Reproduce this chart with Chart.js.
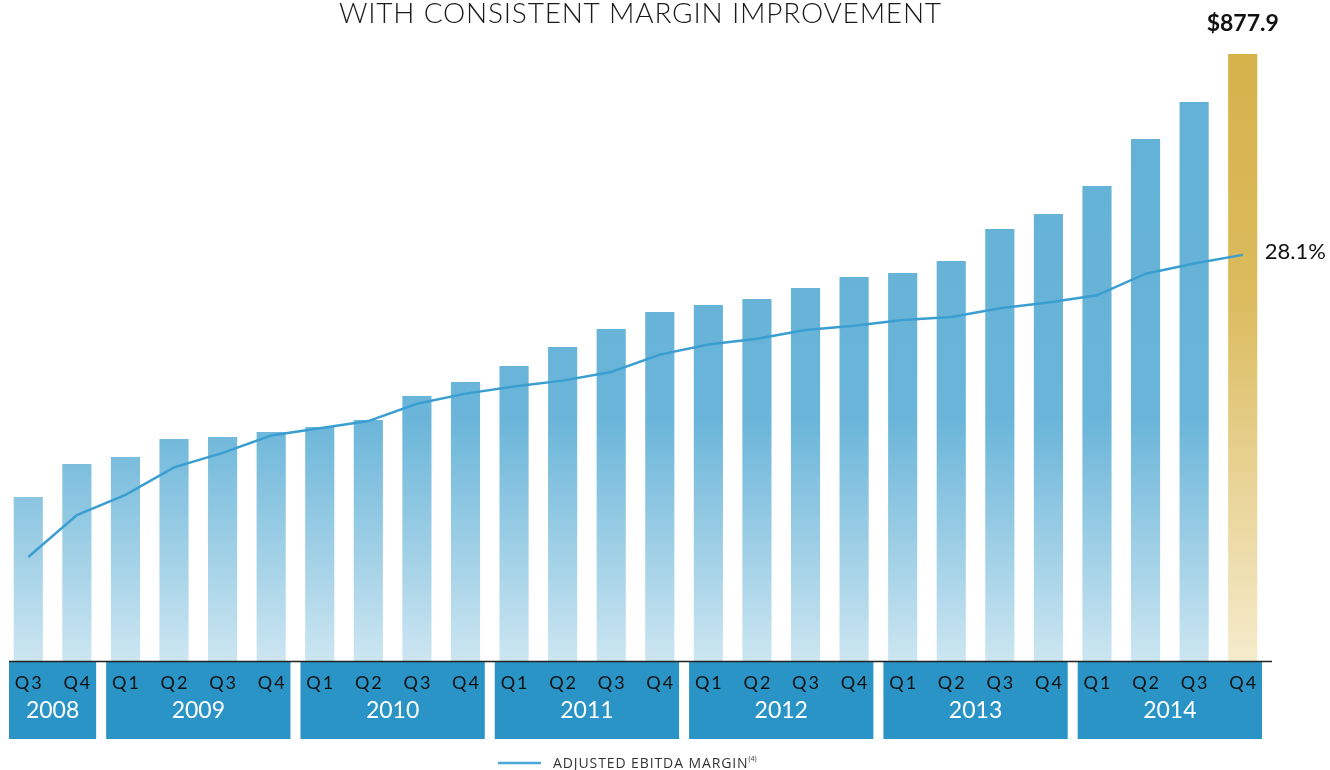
<!DOCTYPE html>
<html><head><meta charset="utf-8">
<script src="https://cdn.jsdelivr.net/npm/chart.js@4.4.0/dist/chart.umd.min.js"></script>
<style>html,body{margin:0;padding:0;background:#fff}#wrap{width:1330px;height:770px;position:relative}</style>
</head><body><div id="wrap"><canvas id="c" width="1330" height="770"></canvas></div>
<script>
const quarters = ["Q3","Q4","Q1","Q2","Q3","Q4","Q1","Q2","Q3","Q4","Q1","Q2","Q3","Q4","Q1","Q2","Q3","Q4","Q1","Q2","Q3","Q4","Q1","Q2","Q3","Q4"];
const years = ["2008","2008","2009","2009","2009","2009","2010","2010","2010","2010","2011","2011","2011","2011","2012","2012","2012","2012","2013","2013","2013","2013","2014","2014","2014","2014"];
const revenue = [237.2,284.9,295.0,321.1,324.0,331.2,338.4,348.6,383.3,403.5,426.7,454.1,480.2,504.8,514.9,523.6,539.5,555.4,561.2,578.5,624.8,646.5,687.0,755.0,808.5,877.9];
const margin = [7.2,10.1,11.5,13.4,14.4,15.6,16.1,16.6,17.8,18.5,19.0,19.4,20.0,21.2,21.9,22.3,22.9,23.2,23.6,23.8,24.4,24.8,25.3,26.8,27.5,28.1];
const titleText = "WITH CONSISTENT MARGIN IMPROVEMENT";
const lastBarLabel = "$877.9";
const lastLineLabel = "28.1%";
const legendText = "ADJUSTED EBITDA MARGIN";

const labels = quarters.map((q,i)=>q+" "+years[i]);

function barGrad(ctx){
  const ch = ctx.chart; const a = ch.chartArea;
  if(!a) return '#63b2d6';
  const last = ctx.dataIndex === revenue.length-1;
  const g = ch.ctx.createLinearGradient(0,a.top,0,a.bottom);
  if(last){
    g.addColorStop(0,'#d6b24b'); g.addColorStop(0.4,'#dbbb5e'); g.addColorStop(1,'#f5ebcc');
  } else {
    g.addColorStop(0,'#62b1d6'); g.addColorStop(0.6,'#6ab5d9'); g.addColorStop(1,'#cce6f1');
  }
  return g;
}

function spaced(c,txt,x,y,sp){
  c.letterSpacing = sp+'px';
  c.fillText(txt,x+sp/2*(c.textAlign==='center'?1:0),y);
  c.letterSpacing = '0px';
}

const overlay = {
  id:'overlay',
  afterDatasetsDraw(chart){
    const c = chart.ctx, x = chart.scales.x, a = chart.chartArea;
    const step = x.getPixelForValue(1)-x.getPixelForValue(0);
    c.save();
    let i=0;
    while(i<years.length){
      let j=i; while(j+1<years.length && years[j+1]===years[i]) j++;
      const l = x.getPixelForValue(i)-step/2+5, r = x.getPixelForValue(j)+step/2-5;
      c.fillStyle='#2a94c6';
      c.fillRect(l,a.bottom+1,r-l,77);
      c.fillStyle='#ffffff'; c.font='23px Lato, "Open Sans", sans-serif';
      c.textAlign='center'; c.textBaseline='middle';
      c.fillText(years[i],(l+r)/2,711);
      i=j+1;
    }
    c.fillStyle='#111'; c.font='18px Lato, "Open Sans", sans-serif';
    quarters.forEach((q,k)=>spaced(c,q,x.getPixelForValue(k),683,2));
    c.strokeStyle='#222'; c.lineWidth=1.5;
    c.beginPath(); c.moveTo(9,a.bottom+0.5); c.lineTo(1272,a.bottom+0.5); c.stroke();
    const n = revenue.length-1;
    const bm = chart.getDatasetMeta(0).data[n];
    c.fillStyle='#111'; c.font='bold 23px Lato, "Open Sans", sans-serif';
    c.fillText(lastBarLabel,bm.x,24);
    const lm = chart.getDatasetMeta(1).data[n];
    c.font='22px Lato, "Open Sans", sans-serif'; c.textAlign='left';
    c.fillText(lastLineLabel,lm.x+22,lm.y-3);
    c.textAlign='center'; c.font='300 28px Lato, "Open Sans", sans-serif'; c.fillStyle='#1a1a1a';
    spaced(c,titleText,640,14,0.8);
    c.strokeStyle='#4aa8d8'; c.lineWidth=2.5;
    c.beginPath(); c.moveTo(498,763); c.lineTo(541,763); c.stroke();
    c.textAlign='left'; c.fillStyle='#333'; c.font='14px "Open Sans", Lato, sans-serif';
    c.letterSpacing='0.9px';
    c.fillText(legendText,553,764);
    const w = c.measureText(legendText).width;
    c.letterSpacing='0px';
    c.font='7px "Open Sans", Lato, sans-serif';
    c.fillText("(4)",553+w,759);
    c.restore();
  }
};

new Chart(document.getElementById('c'),{
  type:'bar',
  data:{labels:labels,datasets:[
    {type:'bar',data:revenue,backgroundColor:barGrad,barPercentage:0.6,categoryPercentage:1,yAxisID:'y',order:2},
    {type:'line',data:margin,borderColor:'#3a9fd0',borderWidth:2.5,pointRadius:0,tension:0,yAxisID:'y2',order:1}
  ]},
  options:{
    responsive:false,animation:false,
    layout:{padding:{left:4,right:63,top:54,bottom:109}},
    plugins:{legend:{display:false},tooltip:{enabled:false}},
    scales:{
      x:{display:false,offset:true,grid:{display:false}},
      y:{display:false,min:0,max:877.9},
      y2:{display:false,min:0,max:42.0}
    }
  },
  plugins:[overlay]
});
</script></body></html>
